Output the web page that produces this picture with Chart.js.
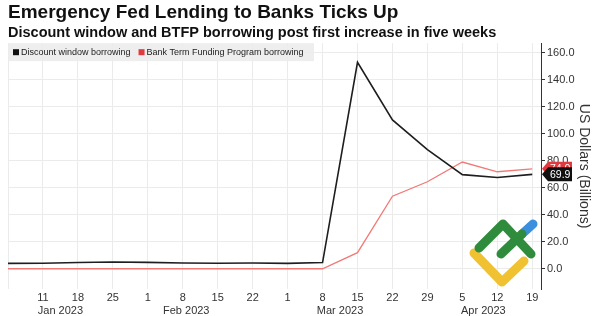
<!DOCTYPE html>
<html lang="en">
<head>
  <meta charset="UTF-8">
  <title>Emergency Fed Lending to Banks Ticks Up</title>
  <style>
    html, body { margin: 0; padding: 0; background: #fff; }
    .wrap { position: relative; width: 595px; height: 316px; }
  </style>
</head>
<body>
  <div class="wrap">
    <canvas id="fedChart" width="595" height="316"></canvas>
  </div>

  <script src="https://cdn.jsdelivr.net/npm/chart.js"></script>
  <script>
    // weekly observations, Jan 4 .. Apr 19 2023
    const weekDays = ['4', '11', '18', '25', '1', '8', '15', '22', '1', '8', '15', '22', '29', '5', '12', '19'];
    const months = ['Jan 2023', 'Feb 2023', 'Mar 2023', 'Apr 2023'];
    const monthAt = [1.5, 5.1, 9.5, 13.6];   // week index the month name sits under
    const discountWindow = [4.0, 4.1, 4.6, 5.0, 4.7, 4.3, 4.1, 4.2, 4.0, 4.6, 152.9, 110.2, 88.2, 69.7, 67.6, 69.9];
    const btfp = [0, 0, 0, 0, 0, 0, 0, 0, 0, 0, 11.9, 53.7, 64.4, 79.0, 71.8, 74.0];
    const yTicks = [0, 20, 40, 60, 80, 100, 120, 140, 160];

    const FONT = "'Liberation Sans', Arial, sans-serif";
    const BLACK = '#1e1e1e';
    const RED = '#f07a78';

    const toPoints = arr => arr.map((v, i) => ({ x: i, y: v }));

    // legend drawn inside the plot area, over a grey band
    const legendInside = {
      id: 'legendInside',
      afterDraw(chart) {
        const { ctx, chartArea } = chart;
        ctx.save();
        ctx.fillStyle = 'rgba(236,236,236,0.9)';
        ctx.fillRect(chartArea.left, chartArea.top, 306, 18);
        ctx.font = '9px ' + FONT;
        ctx.textBaseline = 'middle';
        let x = chartArea.left + 5;
        const y = chartArea.top + 9;
        chart.data.datasets.forEach(ds => {
          ctx.fillStyle = ds.tagColor;
          ctx.fillRect(x, y - 3, 6, 6);
          x += 8;
          ctx.fillStyle = '#222';
          ctx.fillText(ds.label, x, y);
          x += ctx.measureText(ds.label).width + 8;
        });
        ctx.restore();
      }
    };

    // month names under the day numbers
    const monthRow = {
      id: 'monthRow',
      afterDraw(chart) {
        const { ctx } = chart;
        const xs = chart.scales.x;
        ctx.save();
        ctx.font = '11px ' + FONT;
        ctx.fillStyle = '#333';
        ctx.textAlign = 'center';
        ctx.textBaseline = 'middle';
        months.forEach((m, i) => ctx.fillText(m, xs.getPixelForValue(monthAt[i]), 311));
        ctx.restore();
      }
    };

    // last-value tags on the right axis
    const valueTags = {
      id: 'valueTags',
      afterDraw(chart) {
        const { ctx, chartArea } = chart;
        const ys = chart.scales.y;
        ctx.save();
        ctx.font = '10.5px ' + FONT;
        ctx.textBaseline = 'middle';
        ctx.textAlign = 'left';
        [1, 0].forEach(di => {
          const ds = chart.data.datasets[di];
          const v = ds.data[ds.data.length - 1].y;
          const y = ys.getPixelForValue(v);
          const x0 = chartArea.right + 1;
          ctx.fillStyle = ds.tagColor;
          ctx.beginPath();
          ctx.moveTo(x0, y);
          ctx.lineTo(x0 + 6, y - 7);
          ctx.lineTo(x0 + 30, y - 7);
          ctx.lineTo(x0 + 30, y + 7);
          ctx.lineTo(x0 + 6, y + 7);
          ctx.closePath();
          ctx.fill();
          ctx.fillStyle = '#fff';
          ctx.fillText(v.toFixed(1), x0 + 8, y + 0.5);
        });
        ctx.restore();
      }
    };

    // watermark logo in lower right of plot
    const logo = {
      id: 'logo',
      beforeDatasetsDraw(chart) {
        const { ctx, chartArea } = chart;
        const ox = chartArea.right - 68, oy = chartArea.bottom - 68;
        const stroke = (color, pts) => {
          ctx.strokeStyle = color;
          ctx.beginPath();
          pts.forEach((p, i) => i ? ctx.lineTo(ox + p[0], oy + p[1]) : ctx.moveTo(ox + p[0], oy + p[1]));
          ctx.stroke();
        };
        ctx.save();
        ctx.lineWidth = 9;
        ctx.lineCap = 'round';
        ctx.lineJoin = 'round';
        stroke('#3b8fdc', [[49, 13], [60, 3]]);
        stroke('#f0c232', [[1, 32], [29, 61], [51, 40]]);
        stroke('#2f8c3c', [[6, 27], [30, 3], [58, 33]]);
        stroke('#2f8c3c', [[28, 33], [49, 13]]);
        ctx.restore();
      }
    };

    const ctx = document.getElementById('fedChart').getContext('2d');
    new Chart(ctx, {
      type: 'line',
      data: {
        datasets: [{
          label: 'Discount window borrowing',
          data: toPoints(discountWindow),
          borderColor: BLACK,
          tagColor: '#111',
          borderWidth: 1.6,
          pointRadius: 0,
          tension: 0
        }, {
          label: 'Bank Term Funding Program borrowing',
          data: toPoints(btfp),
          borderColor: RED,
          tagColor: '#e0393e',
          borderWidth: 1.3,
          pointRadius: 0,
          tension: 0
        }]
      },
      options: {
        responsive: false,
        animation: false,
        layout: { padding: { left: 8, top: 1, right: 3, bottom: 0 } },
        plugins: {
          legend: { display: false },
          tooltip: { enabled: false },
          title: {
            display: true,
            text: 'Emergency Fed Lending to Banks Ticks Up',
            align: 'start',
            color: '#111',
            font: { family: FONT, size: 19, weight: 'bold' },
            padding: { top: 0, bottom: 0 }
          },
          subtitle: {
            display: true,
            text: 'Discount window and BTFP borrowing post first increase in five weeks',
            align: 'start',
            color: '#111',
            font: { family: FONT, size: 14.5, weight: 'bold' },
            padding: { top: 0, bottom: 2 }
          }
        },
        scales: {
          x: {
            type: 'linear',
            min: 0,
            max: 15.25,
            afterBuildTicks: s => { s.ticks = weekDays.map((_, i) => ({ value: i })); },
            afterFit: s => { s.height = 27; },
            grid: { color: '#ebebeb', drawTicks: false },
            border: { display: false },
            ticks: {
              autoSkip: false,
              maxRotation: 0,
              padding: 2,
              color: '#333',
              font: { family: FONT, size: 11 },
              callback: (v, i) => (i === 0 ? '' : weekDays[i])
            }
          },
          y: {
            position: 'right',
            min: -15,
            max: 167,
            afterBuildTicks: s => { s.ticks = yTicks.map(v => ({ value: v })); },
            afterFit: s => { s.width = 51; },
            grid: { color: '#ebebeb', tickColor: '#333', tickLength: 4 },
            border: { color: '#333', width: 1 },
            ticks: {
              padding: 2,
              color: '#333',
              font: { family: FONT, size: 11 },
              callback: v => v.toFixed(1)
            },
            title: {
              display: true,
              text: 'US Dollars (Billions)',
              color: '#333',
              font: { family: FONT, size: 14 },
              padding: 0
            }
          }
        }
      },
      plugins: [logo, legendInside, monthRow, valueTags]
    });
  </script>
</body>
</html>
